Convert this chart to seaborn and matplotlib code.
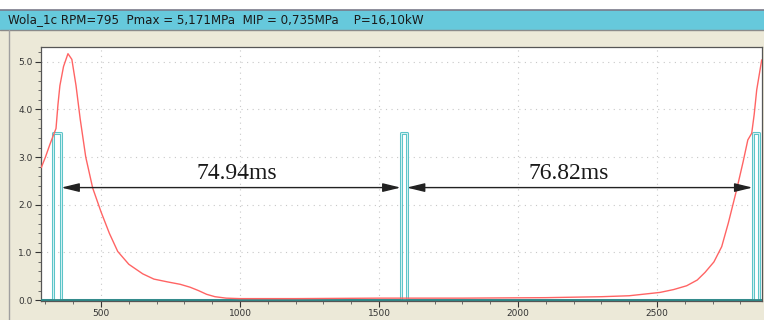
import numpy as np
import pandas as pd
import matplotlib
matplotlib.use("Agg")
import matplotlib.pyplot as plt
from matplotlib.patches import Rectangle
from matplotlib.lines import Line2D
from matplotlib.ticker import MultipleLocator
import seaborn as sns

# ---- data ----
title_text = "Wola_1c RPM=795  Pmax = 5,171MPa  MIP = 0,735MPa    P=16,10kW"

curve_x = [285, 300, 315, 328, 338, 345, 352, 365, 381, 395, 410, 425, 445, 470,
           500, 530, 560, 600, 650, 690, 740, 785, 820, 850, 880, 910, 950, 1000,
           1200, 1500, 1800, 2100, 2300, 2400, 2511, 2560, 2607, 2645, 2673, 2705,
           2733, 2757, 2787, 2810, 2827, 2841, 2850, 2859, 2877]
curve_y = [2.78, 3.0, 3.25, 3.45, 3.6, 4.1, 4.5, 4.9, 5.17, 5.05, 4.5, 3.8, 3.0, 2.35,
           1.85, 1.4, 1.02, 0.75, 0.55, 0.44, 0.38, 0.33, 0.27, 0.2, 0.12, 0.07, 0.04, 0.03,
           0.03, 0.04, 0.04, 0.05, 0.07, 0.09, 0.16, 0.22, 0.30, 0.42, 0.58, 0.8,
           1.12, 1.62, 2.32, 2.9, 3.36, 3.5, 3.9, 4.41, 5.04]

pulse_start = [328, 1578, 2844]
pulse_end = [357, 1600, 2867]
pulse_height = 3.5

interval_labels = ["74.94ms", "76.82ms"]
interval_label_x = [989, 2183]
arrow_level = 2.36

x_ticks = [500, 1000, 1500, 2000, 2500]
y_ticks = [0.0, 1.0, 2.0, 3.0, 4.0, 5.0]
x_range = (284, 2878)
y_range = (-0.02, 5.31)

# ---- build tables ----
curve_df = pd.DataFrame({"t": curve_x, "p": curve_y})
px, py = [x_range[0]], [0.0]
for s, e in zip(pulse_start, pulse_end):
    px += [s, s, e, e]
    py += [0.0, pulse_height, pulse_height, 0.0]
px.append(x_range[1]); py.append(0.0)
pulse_df = pd.DataFrame({"t": px, "v": py})

sns.set_theme(style="white")
plt.rcParams["font.family"] = ["DejaVu Sans"]

W, H = 764, 320
fig = plt.figure(figsize=(W / 100, H / 100), dpi=100)
fig.patch.set_facecolor("#ece9d8")

# top white strip and cyan title bar
fig.add_artist(Rectangle((0, (H - 10) / H), 1, 10 / H, transform=fig.transFigure,
                         facecolor="white", edgecolor="none"))
fig.add_artist(Rectangle((0, (H - 30) / H), 1, 20 / H, transform=fig.transFigure,
                         facecolor="#66c9dc", edgecolor="none"))
fig.add_artist(Line2D([0, 1], [(H - 10) / H] * 2, transform=fig.transFigure,
                      color="#7a7a8a", lw=1.2))
fig.add_artist(Line2D([0, 1], [(H - 30) / H] * 2, transform=fig.transFigure,
                      color="#8a8a8a", lw=1.0))
fig.add_artist(Line2D([9 / W, 9 / W], [0, (H - 30) / H], transform=fig.transFigure,
                      color="#a0a0a0", lw=1.0))
fig.text(8 / W, (H - 20) / H, title_text, fontsize=8.6, color="#1a1a1a",
         va="center", ha="left")

ax = fig.add_axes([41 / W, 19 / H, (762 - 41) / W, (301 - 47) / H])
ax.set_facecolor("white")

# grid
for gx in x_ticks:
    ax.axvline(gx, color="#c8c8c8", lw=0.8, ls=(0, (1, 4)), zorder=0)
for gy in y_ticks[1:]:
    ax.axhline(gy, color="#c8c8c8", lw=0.8, ls=(0, (1, 4)), zorder=0)

# pulse trace
sns.lineplot(data=pulse_df, x="t", y="v", ax=ax, color="#5cc4c8", lw=2.2,
             sort=False, estimator=None, zorder=2)
sns.lineplot(data=pulse_df, x="t", y="v", ax=ax, color="#e8f8f8", lw=0.6,
             sort=False, estimator=None, zorder=2)
ax.axhline(0.0, color="#2f8585", lw=2.0, zorder=3)

# pressure curve
sns.lineplot(data=curve_df, x="t", y="p", ax=ax, color="#ff6464", lw=1.0,
             sort=False, estimator=None, zorder=4)

# interval arrows
arrow_from = [pulse_end[0], pulse_end[1]]
arrow_to = [pulse_start[1], pulse_start[2]]
for a, b, lab, lx in zip(arrow_from, arrow_to, interval_labels, interval_label_x):
    ax.annotate("", xy=(a, arrow_level), xytext=(b, arrow_level),
                arrowprops=dict(arrowstyle="<|-|>,head_length=0.9,head_width=0.22",
                                color="#222222", lw=1.0,
                                mutation_scale=12, shrinkA=0, shrinkB=0), zorder=5)
    ax.text(lx, arrow_level + 0.08, lab, ha="center", va="bottom",
            fontsize=17, family="Liberation Serif", color="#1a1a1a", zorder=6)

ax.set_xlim(*x_range)
ax.set_ylim(*y_range)
ax.set_xticks(x_ticks)
ax.set_xticklabels([str(v) for v in x_ticks])
ax.set_yticks(y_ticks)
ax.set_yticklabels([f"{v:.1f}" for v in y_ticks])
ax.xaxis.set_minor_locator(MultipleLocator(100))
ax.yaxis.set_minor_locator(MultipleLocator(0.2))
ax.tick_params(axis="both", which="major", direction="out", length=4, width=0.8,
               labelsize=6.5, colors="#333333", pad=2, bottom=True, left=True)
ax.tick_params(axis="both", which="minor", direction="out", length=2, width=0.6,
               colors="#555555", bottom=True, left=True)
ax.set_xlabel("")
ax.set_ylabel("")
for sp in ax.spines.values():
    sp.set_color("#555555")
    sp.set_linewidth(0.9)

fig.savefig("out.png", dpi=100, facecolor=fig.get_facecolor())
